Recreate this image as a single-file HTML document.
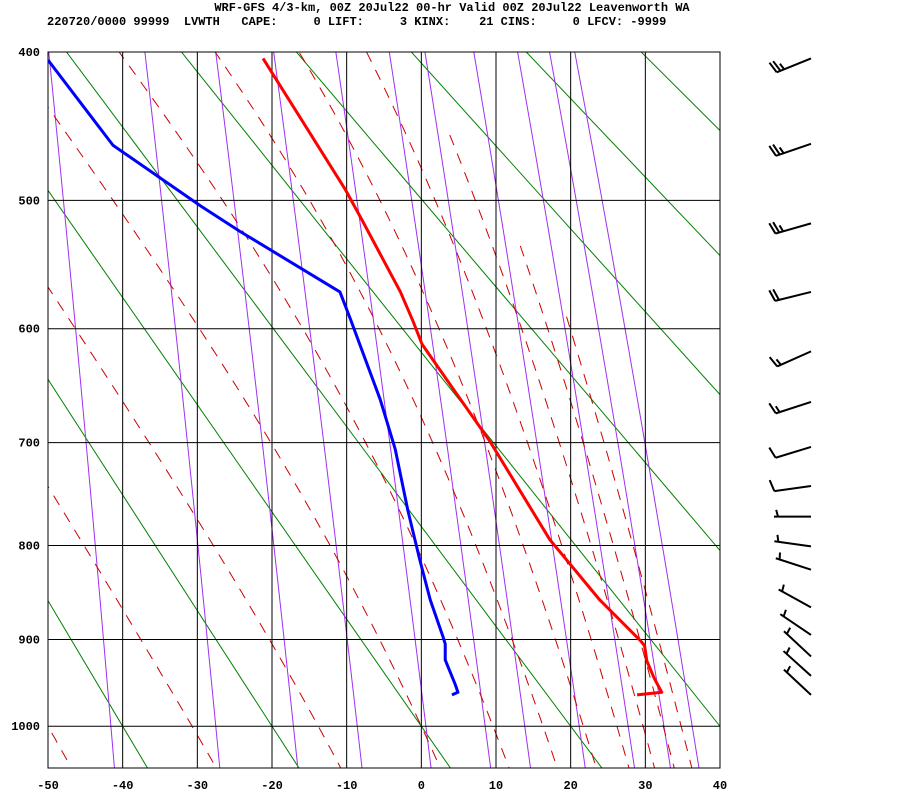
<!DOCTYPE html>
<html><head><meta charset="utf-8"><title>Skew-T Leavenworth</title>
<style>
html,body{margin:0;padding:0;background:#fff;}
svg{display:block;}
text{font-family:"Liberation Mono",monospace;font-weight:bold;font-size:12px;fill:#000;}
</style></head>
<body>
<svg id="chart" width="900" height="800" viewBox="0 0 900 800" xmlns="http://www.w3.org/2000/svg">
  <defs><clipPath id="plotclip"><rect x="48" y="52" width="672" height="716"/></clipPath></defs>
  <rect x="0" y="0" width="900" height="800" fill="#fff"/>
  <text x="452" y="11" text-anchor="middle" xml:space="preserve">WRF-GFS 4/3-km, 00Z 20Jul22 00-hr Valid 00Z 20Jul22 Leavenworth WA</text>
  <text x="47" y="25" xml:space="preserve">220720/0000 99999  LVWTH   CAPE:     0 LIFT:     3 KINX:    21 CINS:     0 LFCV: -9999</text>
  <g id="bg" clip-path="url(#plotclip)"></g>
  <g id="grid"></g>
  <g id="series" clip-path="url(#plotclip)"></g>
  <g id="axes"></g>
  <g id="barbs"></g>
</svg>
<script>
// ---- data ----
const tempTicks = [-50,-40,-30,-20,-10,0,10,20,30,40];
const presTicks = [400,500,600,700,800,900,1000];
const tempP = [404,492,516,570,594,613,635,699,794,857,901,907,924,944,960,963];
const tempT = [-21.2,-10.2,-7.8,-2.8,-1.1,0.1,2.5,9.2,17.2,23.9,29.3,29.9,30.2,31.2,32.2,28.9];
const dewP = [405,461,504,523,570,592,661,706,765,815,857,897,905,923,950,960,963];
const dewT = [-50,-41.3,-29.6,-24.3,-10.9,-9.5,-5.5,-3.5,-1.8,-0.2,1.2,2.9,3.2,3.2,4.5,4.9,4.1];
const dryThetaC = [-60,-40,-20,0,20,40,60,80,100,120,140,160,180,200];
const moistT1000 = [-50,-30.7,-13.8,0,9.6,16.3,21.7,26.2,29.7,32.4,34.8];
const moistTopP = [360,360,360,360,360,360,360,400,455,535,590];
const mixRatios = [0.1,0.4,1,2,4,7,10,16,24,32,40];
const barbP = [404,460,517,570,619,663,704,741,771,801,825,865,895,919,941,963];
const barbDir = [248,251,254,256,246,252,253,262,270,278,288,299,304,313,312,313];
const barbSpd = [25,25,25,20,15,15,10,10,5,5,5,5,5,5,5,5];

// ---- scales ----
const K = 0.2857, NS = "http://www.w3.org/2000/svg";
const P0K = Math.pow(400, K), PXU = 406.8;
function xT(t){ return 48 + (t + 50) * (672/90); }
function yP(p){ return 52 + (Math.pow(p, K) - P0K) * PXU; }
function mk(tag, attrs, parent){ const e=document.createElementNS(NS,tag); for(const k in attrs) e.setAttribute(k,attrs[k]); parent.appendChild(e); return e; }
function pts(arrP, arrT){ return arrP.map((p,i)=>xT(arrT[i]).toFixed(2)+","+yP(p).toFixed(2)).join(" "); }

const bg = document.getElementById('bg'), grid=document.getElementById('grid'), series=document.getElementById('series'), axes=document.getElementById('axes'), barbs=document.getElementById('barbs');

// dry adiabats
dryThetaC.forEach(th=>{
  const P=[],T=[];
  for(let p=360;p<=1060;p+=350){ P.push(p); T.push((th+273.15)*Math.pow(p/1000,K)-273.15); }
  const el = mk('polyline',{points:pts(P,T),fill:'none',stroke:'#008000','stroke-width':1},bg);
  
  
});
// mixing ratio lines
function tdFromE(e){ const l=Math.log(e/6.112); return 243.5*l/(17.67-l); }
mixRatios.forEach(w=>{
  const P=[],T=[];
  for(let p=360;p<=1060;p+=10){ const e=w*p/(622+w); P.push(p); T.push(tdFromE(e)); }
  const el = mk('polyline',{points:pts(P,T),fill:'none',stroke:'#a030f0','stroke-width':1},bg);
  
  
});
// moist adiabats
function es(tc){ return 6.112*Math.exp(17.67*tc/(tc+243.5)); }
function dTdp(p,Tk){ const tc=Tk-273.15, e=es(tc), rs=0.622*e/(p-e);
  return (287*Tk + 2.5e6*rs)/(p*(1005 + 2.5e6*2.5e6*rs*0.622/(287*Tk*Tk))); }
function integ(T0,p0,p1,dp){ const out=[]; let p=p0,T=T0+273.15; out.push([p,T]);
  while((dp<0&&p>p1)||(dp>0&&p<p1)){ const k1=dTdp(p,T); const k2=dTdp(p+dp/2,T+k1*dp/2); T+=k2*dp; p+=dp; out.push([p,T]); } return out; }
moistT1000.forEach((t0,i)=>{
  const up=integ(t0,1000,moistTopP[i],-2).reverse(), dn=integ(t0,1000,1060,2).slice(1);
  const all=up.concat(dn);
  const el = mk('polyline',{points:pts(all.map(a=>a[0]),all.map(a=>a[1]-273.15)),fill:'none',stroke:'#cc0000','stroke-width':1,'stroke-dasharray':'11,9'},bg);
  
  
});
// grid
tempTicks.forEach(t=>{
  const el=mk('line',{x1:xT(t),x2:xT(t),y1:52,y2:768,stroke:'#000','stroke-width':1},grid);
  
  
  const lb=mk('text',{x:xT(t),y:789,'text-anchor':'middle'},axes); lb.textContent=t;
  
  
});
presTicks.forEach(p=>{
  const el=mk('line',{x1:48,x2:720,y1:yP(p),y2:yP(p),stroke:'#000','stroke-width':1},grid);
  
  
  const lb=mk('text',{x:40,y:yP(p)+4,'text-anchor':'end'},axes); lb.textContent=p;
  
  
});
const frame=mk('rect',{x:48,y:52,width:672,height:716,fill:'none',stroke:'#000','stroke-width':1},grid);


// soundings
const tl=mk('polyline',{points:pts(tempP,tempT),fill:'none',stroke:'#ff0000','stroke-width':3,'stroke-linejoin':'round'},series);


const dl=mk('polyline',{points:pts(dewP,dewT),fill:'none',stroke:'#0000ff','stroke-width':3,'stroke-linejoin':'round'},series);


// wind barbs
barbP.forEach((p,i)=>{
  const bx=811, by=yP(p), d=barbDir[i]*Math.PI/180, L=37;
  const ux=Math.sin(d), uy=-Math.cos(d);
  const tx=bx+L*ux, ty=by+L*uy;
  const a=75*Math.PI/180, vx=ux*Math.cos(a)-uy*Math.sin(a), vy=ux*Math.sin(a)+uy*Math.cos(a);
  const g=mk('g',{},barbs);
  
  
  mk('line',{x1:bx,y1:by,x2:tx,y2:ty,stroke:'#000','stroke-width':2},g);
  let s=barbSpd[i], k=0;
  if(s<10){ k=1; }
  while(s>=10){ const px=tx-k*4*ux, py=ty-k*4*uy; mk('line',{x1:px,y1:py,x2:px+12*vx,y2:py+12*vy,stroke:'#000','stroke-width':2},g); s-=10; k++; }
  if(s>=5){ const px=tx-k*4*ux, py=ty-k*4*uy; mk('line',{x1:px,y1:py,x2:px+7*vx,y2:py+7*vy,stroke:'#000','stroke-width':2},g); }
});
</script>
</body></html>
